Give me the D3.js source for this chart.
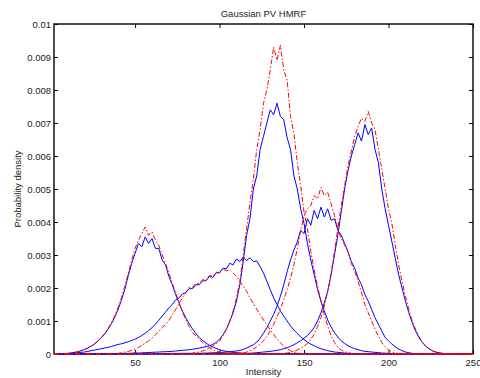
<!DOCTYPE html>
<html>
<head>
<meta charset="utf-8">
<script src="https://cdn.jsdelivr.net/npm/d3@7"></script>
<style>
  body { margin: 0; background: #fff; }
  svg { display: block; }
</style>
</head>
<body>
<div class="chart"></div>
<script>
// densities are in units of 1e-4, one value every 2 intensity levels from the given start
const step = 2;

const blueAStart = 8;
const blueA = [0.1,0.2,0.3,0.5,0.7,1.0,1.4,1.8,2.4,3.0,3.9,4.9,6.1,7.5,9.2,11.2,13.6,16.4,19.8,23.8,
               27.5,30.5,33.5,32.5,35.5,33.5,35,32,32,28.5,27,23.5,21,18,15.5,13,11,9.2,7.6,6.2,
               5.0,4.1,3.3,2.6,2.1,1.7,1.3,1.0,0.8,0.6,0.5,0.4,0.3,0.2,0.15,0.1];

const blueBStart = 12;
const blueB = [0.2,0.3,0.4,0.5,0.6,0.8,1.0,1.2,1.4,1.6,1.8,2.0,2.3,2.6,2.9,3.1,3.4,3.7,4.1,4.5,
               5.0,5.6,6.3,7.1,8.0,9.0,10.2,11.5,12.7,14.0,15.0,16.4,17.0,18.2,18.6,19.8,19.8,21.0,21.0,22.2,
               22.2,23.5,23.2,24.6,24.6,26.0,25.8,27.5,27.0,28.8,28.0,29.4,28.3,29.2,28.0,28.2,26.5,24.5,22.0,19.5,
               17.0,15.0,13.0,11.5,10.0,8.5,7.3,6.2,5.2,4.4,3.6,3.0,2.5,2.0,1.6,1.3,1.0,0.8,0.6,0.5,
               0.4,0.3,0.2,0.15,0.1];

const blueCStart = 40;
const blueC = [0.1,0.15,0.2,0.2,0.25,0.3,0.3,0.35,0.4,0.45,0.5,0.55,0.6,0.65,0.7,0.75,0.8,0.9,1.0,1.1,
               1.2,1.3,1.45,1.6,1.8,2.0,2.2,2.5,2.9,3.5,4.5,5.8,7.5,9.8,12.5,16,21,28,36,41,
               50,54,62,66,70,74,72.5,76,72,71,65.5,62,54,50,44,39.5,33.5,28.5,24,19.5,
               16,13,10.3,8.2,6.5,5.1,4.0,3.2,2.5,2.0,1.6,1.3,1.0,0.8,0.7,0.6,0.5,0.4,0.3,0.25,
               0.2,0.15,0.1];

const blueDStart = 90;
const blueD = [0.2,0.25,0.3,0.35,0.4,0.45,0.5,0.6,0.7,0.8,0.9,1.1,1.4,1.8,2.3,2.8,3.6,4.8,6.3,8.0,
               10,12,14.5,17.5,21,25,28.5,31.5,34,37.5,36.5,41,39,43.5,41,44.5,41.5,44,40.5,41,
               37.5,36,33.5,31,28,26,23,21,18,16,13.5,11,9,7,5,4,3,2.2,1.5,1.0,
               0.6,0.4,0.2,0.1];

const blueEStart = 116;
const blueE = [0.2,0.25,0.3,0.4,0.5,0.6,0.7,0.8,0.95,1.1,1.3,1.6,1.9,2.3,2.8,3.4,4.0,4.8,5.6,6.7,
               8.0,10,12.5,15.5,19,24,30,36,43,50,55.5,60,63.5,67,64.5,69.5,66.5,68.5,62,58,
               50,44,39,34,29,24,20,16,12.5,9.5,7,5,3.5,2.4,1.6,1.0,0.6,0.4,0.2,0.1];

const redAStart = 10;
const redA = [0.1,0.2,0.4,0.6,0.9,1.3,1.8,2.4,3.1,4.0,5.0,6.2,7.7,9.5,11.6,14.2,17.2,20.6,24.5,28.5,
              32,34.5,36.5,38.5,36,37,34.5,33,30,27.5,24.5,21.5,18.5,15.5,12.8,10.4,8.3,6.5,5.5,4.4,
              3.4,2.6,1.9,1.3,0.9,0.6,0.35,0.2,0.1];

const redBStart = 38;
const redB = [0.1,0.2,0.4,0.6,0.8,1.1,1.5,2.0,2.6,3.3,4.0,4.8,5.8,6.8,7.9,9.0,10.2,11.8,13.5,15.3,
              17.0,18.6,20.2,20.2,21.4,21.4,22.6,22.4,23.8,23.6,24.8,24.6,25.8,25.2,25.5,24.5,23.5,22,20.5,19,
              17,15.3,13.6,12,10.3,8.8,7.3,5.9,4.6,3.4,2.4,1.6,1.0,0.6,0.3,0.1];

const redCStart = 82;
const redC = [0.1,0.2,0.4,0.6,0.9,1.3,1.8,2.4,3.1,4.0,5.5,7.5,10,13,17,22,30,38,46,53,
              62,68,76,80,86,93,89,93.5,86,83,72,67,58,51,43,38,31,25.5,20.5,16,
              12,8.5,5.5,3.5,2.0,1.2,0.7,0.4,0.2,0.1];

const redDStart = 114;
const redD = [0.3,0.6,1.0,1.5,2.2,3.0,4.0,5.3,7.0,9.0,11.2,13.7,16.5,19.5,23,27,32,37.5,42,44,
              45,48,47,50.5,48,49,45.5,42,38,35,33,31,27.5,25,22,18.5,15,12.5,10,7.5,
              5.5,3.5,2.2,1.3,0.6,0.2];

const redEStart = 138;
const redE = [0.2,0.3,0.5,0.8,1.2,1.7,2.4,3.2,4.4,6,8.3,11,14.5,19,24.5,31,38,45,51,57,
              61.5,66,69,71.5,70.5,73.5,70,68,62,56,50,44,39.5,33,27,22,17.5,13.5,10,7.5,
              5.3,3.6,2.4,1.5,0.9,0.5,0.25,0.1];

const xDomain = [2, 250];
const xTicks = [50, 100, 150, 200, 250];
const yTicks = [0, 10, 20, 30, 40, 50, 60, 70, 80, 90, 100];
const yTickLabels = ["0", "0.001", "0.002", "0.003", "0.004", "0.005", "0.006", "0.007", "0.008", "0.009", "0.01"];

const blueCurves = [[blueAStart, blueA], [blueBStart, blueB], [blueCStart, blueC], [blueDStart, blueD], [blueEStart, blueE]];
const redCurves = [[redAStart, redA], [redBStart, redB], [redCStart, redC], [redDStart, redD], [redEStart, redE]];

const width = 480;
const height = 378;
const margin = {top: 24, right: 7, bottom: 24, left: 54};
const font = "'Liberation Sans', Arial, Helvetica, sans-serif";

const svg = d3.select(".chart")
              .append("svg")
              .attr("width", width)
              .attr("height", height);

const xScale = d3.scaleLinear()
                 .domain(xDomain)
                 .range([margin.left, width - margin.right]);

const yScale = d3.scaleLinear()
                 .domain([0, 100])
                 .range([height - margin.bottom, margin.top]);

const toPoints = ([start, values]) => [
    [xDomain[0], 0],
    ...values.map((v, i) => [start + i * step, v]),
    [xDomain[1], 0]
];

const line = d3.line()
               .x(d => xScale(d[0]))
               .y(d => yScale(d[1]));

// axes, matlab style: ticks inside on all four sides
const styleAxis = g => {
    g.select(".domain").remove();
    g.selectAll(".tick line").attr("stroke", "#000");
    g.selectAll("text")
     .style("font-family", font)
     .style("font-size", "9.5px")
     .attr("fill", "#222");
};

svg.append("g")
   .attr("transform", `translate(0, ${height - margin.bottom})`)
   .call(d3.axisBottom(xScale).tickValues(xTicks).tickSize(-4).tickPadding(5))
   .call(styleAxis);

svg.append("g")
   .attr("transform", `translate(0, ${margin.top})`)
   .call(d3.axisTop(xScale).tickValues(xTicks).tickSize(-4).tickFormat(""))
   .call(styleAxis);

svg.append("g")
   .attr("transform", `translate(${margin.left}, 0)`)
   .call(d3.axisLeft(yScale).tickValues(yTicks).tickSize(-4).tickPadding(3)
           .tickFormat((d, i) => yTickLabels[i]))
   .call(styleAxis);

svg.append("g")
   .attr("transform", `translate(${width - margin.right}, 0)`)
   .call(d3.axisRight(yScale).tickValues(yTicks).tickSize(-4).tickFormat(""))
   .call(styleAxis);

svg.append("rect")
   .attr("x", margin.left)
   .attr("y", margin.top)
   .attr("width", width - margin.left - margin.right)
   .attr("height", height - margin.top - margin.bottom)
   .attr("fill", "none")
   .attr("stroke", "#000")
   .attr("stroke-width", 1.4);

svg.selectAll(".blue")
   .data(blueCurves)
   .join("path")
   .attr("class", "blue")
   .attr("d", d => line(toPoints(d)))
   .attr("fill", "none")
   .attr("stroke", "#0000ff")
   .attr("stroke-width", 1);

svg.selectAll(".red")
   .data(redCurves)
   .join("path")
   .attr("class", "red")
   .attr("d", d => line(toPoints(d)))
   .attr("fill", "none")
   .attr("stroke", "#ff0000")
   .attr("stroke-width", 1)
   .attr("stroke-dasharray", "5,2,1.5,2");

svg.append("text")
   .text("Gaussian PV HMRF")
   .attr("x", (margin.left + width - margin.right) / 2)
   .attr("y", 16.5)
   .attr("text-anchor", "middle")
   .style("font-family", font)
   .style("font-size", "9.5px")
   .attr("fill", "#222");

svg.append("text")
   .text("Intensity")
   .attr("x", (margin.left + width - margin.right) / 2)
   .attr("y", 374.5)
   .attr("text-anchor", "middle")
   .style("font-family", font)
   .style("font-size", "9.5px")
   .attr("fill", "#222");

svg.append("text")
   .text("Probability density")
   .attr("transform", `translate(21, ${(margin.top + height - margin.bottom) / 2}) rotate(-90)`)
   .attr("text-anchor", "middle")
   .style("font-family", font)
   .style("font-size", "9.5px")
   .attr("fill", "#222");
</script>
</body>
</html>
